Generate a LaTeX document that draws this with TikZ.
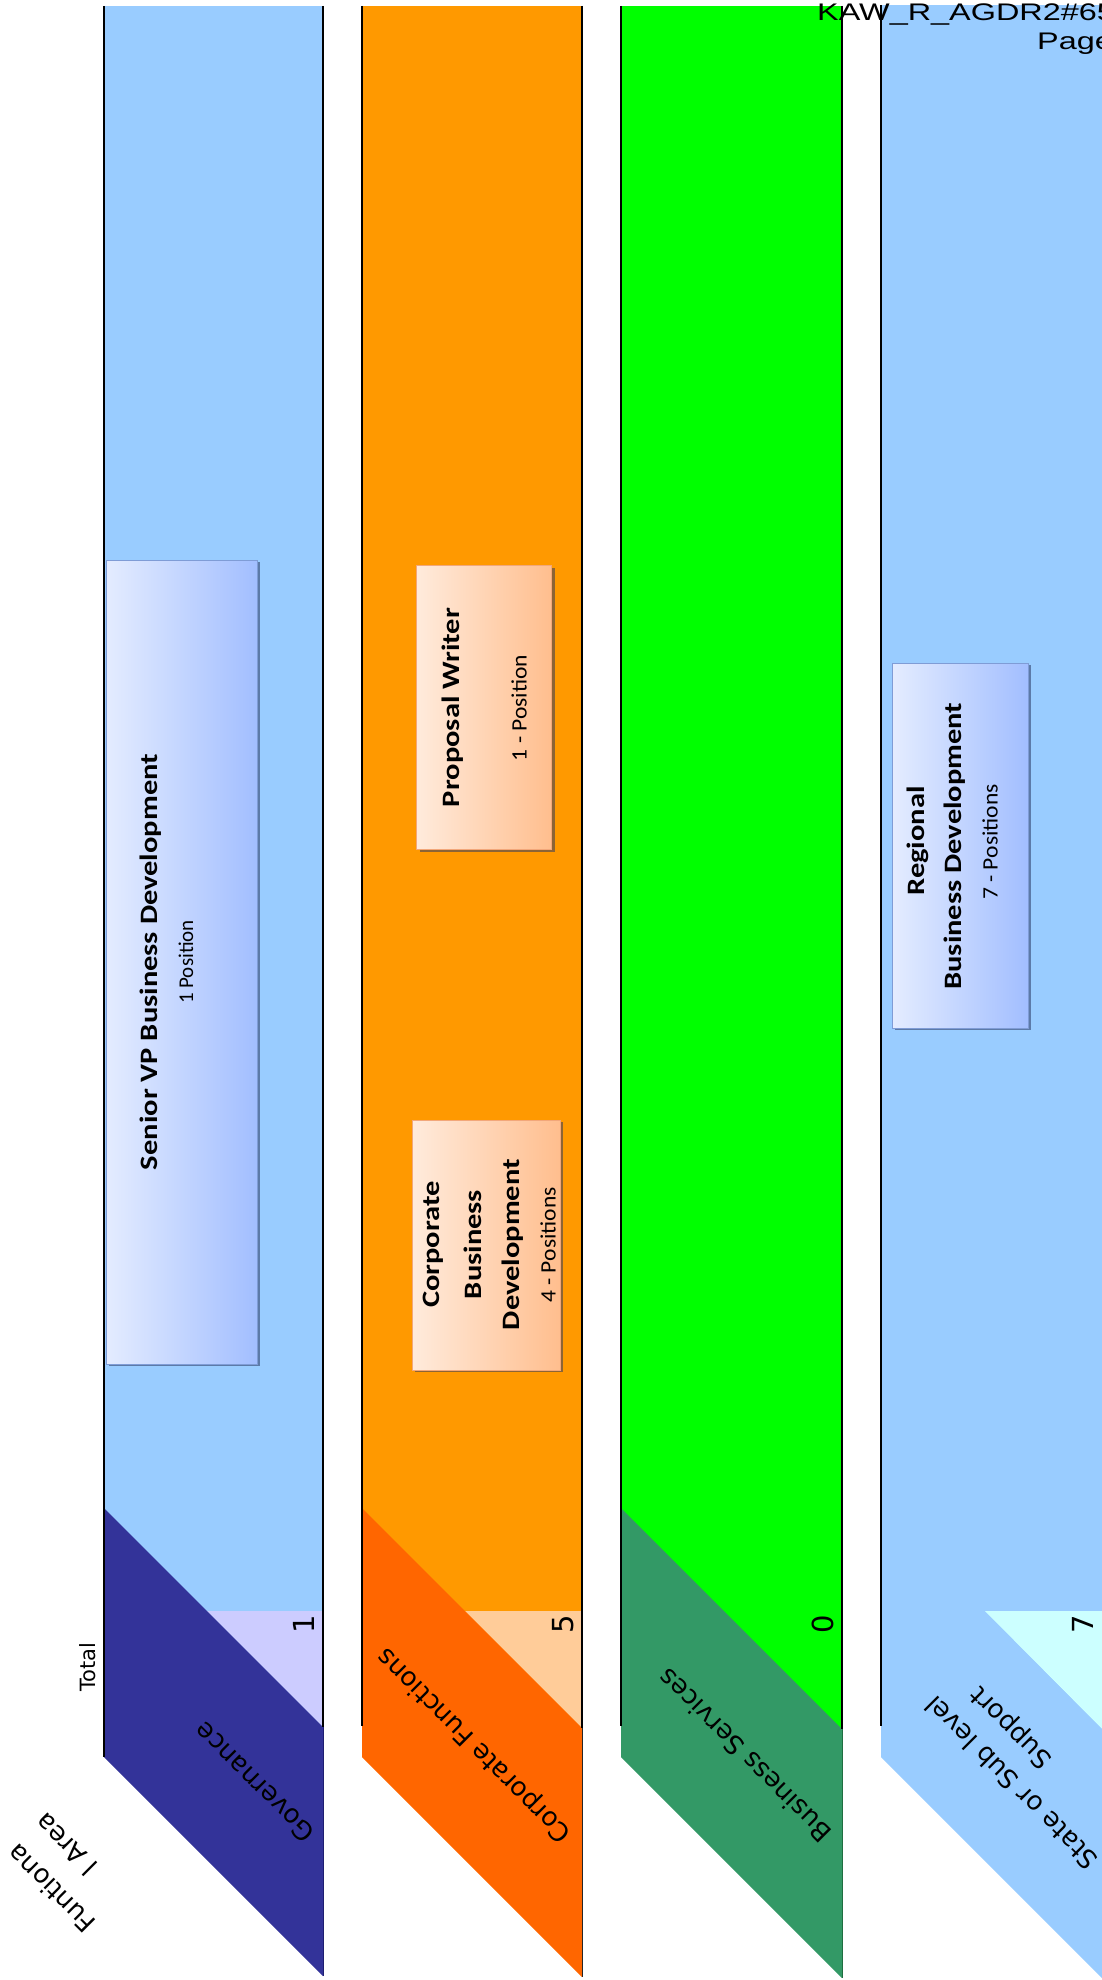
\documentclass[tikz,border=0pt]{standalone}
\usepackage{fontspec}
\usepackage{graphicx}
\setmainfont{Carlito}
\newfontfamily\dejavu{DejaVu Sans}
\newfontfamily\arialf{Liberation Sans}
\usetikzlibrary{shadows}

% band colours
\definecolor{skyband}{HTML}{99CCFF}
\definecolor{govpara}{HTML}{333399}
\definecolor{govpara edge}{HTML}{1E1E70}
\definecolor{govtri}{HTML}{CCCCFF}
\definecolor{corpband}{HTML}{FF9900}
\definecolor{corppara}{HTML}{FF6600}
\definecolor{corptri}{HTML}{FFCC99}
\definecolor{bizband}{HTML}{00FF00}
\definecolor{bizpara}{HTML}{339966}
\definecolor{bizpara edge}{HTML}{1F6E40}
\definecolor{statetri}{HTML}{CCFFFF}
% position box colours
\definecolor{bluepale}{HTML}{E4ECFF}
\definecolor{bluedeep}{HTML}{A2BEFF}
\definecolor{blueedge}{HTML}{7F9CD6}
\definecolor{blueshadow}{HTML}{5C7AA8}
\definecolor{peachpale}{HTML}{FFEBDC}
\definecolor{peachdeep}{HTML}{FFBE8E}
\definecolor{peachedge}{HTML}{F2A77A}
\definecolor{peachshadow}{HTML}{8C6436}

\tikzset{
  edgeline/.style={line width=2pt, black},
  countlabel/.style={rotate=90, inner sep=0pt, font=\dejavu\fontsize{29}{34}\selectfont},
  arealabel/.style={rotate=135, inner sep=0pt, font=\dejavu\fontsize{26}{31}\selectfont},
  bluebox/.style={draw=blueedge, line width=1pt, left color=bluepale, right color=bluedeep,
    inner sep=0pt,
    drop shadow={shadow xshift=3pt, shadow yshift=-2pt, fill=blueshadow, opacity=1}},
  peachbox/.style={draw=peachedge, line width=1pt, left color=peachpale, right color=peachdeep,
    inner sep=0pt,
    drop shadow={shadow xshift=3pt, shadow yshift=-2pt, fill=peachshadow, opacity=1}},
  titletext/.style={rotate=90, inner sep=0pt, font=\bfseries\fontsize{25}{30}\selectfont},
  subtext/.style={rotate=90, inner sep=0pt, font=\fontsize{22}{26}\selectfont},
  headtext/.style={anchor=base west, inner sep=0pt, font=\arialf\fontsize{24}{28}\selectfont},
}

\begin{document}
\begin{tikzpicture}[x=1pt, y=-1pt]
\useasboundingbox (0,0) rectangle (1102,1980);
\clip (0,0) rectangle (1102,1980);

% ---------- Governance band ----------
\fill[skyband] (104,6) rectangle (323,1727);
\fill[govtri] (207,1611) -- (323,1611) -- (323,1727) -- cycle;
\fill[govpara] (104,1508) -- (323,1727) -- (323,1976) -- (104,1757) -- cycle;
\draw[govpara edge, line width=1.5pt] (323.5,1727) -- (323.5,1976);
\draw[edgeline] (104,6) -- (104,1757);
\draw[edgeline] (323,6) -- (323,1727);

% ---------- Corporate Functions band ----------
\fill[corpband] (362,6) rectangle (582,1728);
\fill[corptri] (465,1611) -- (582,1611) -- (582,1728) -- cycle;
\fill[corppara] (362,1508) -- (582,1728) -- (582,1977) -- (362,1757) -- cycle;
\draw[black!85, line width=1.5pt] (582.5,1728) -- (582.5,1977);
\draw[edgeline] (362,6) -- (362,1726);
\draw[edgeline] (582,6) -- (582,1728);

% ---------- Business Services band ----------
\fill[bizband] (621,6) rectangle (842,1729);
\fill[bizpara] (621,1508) -- (842,1729) -- (842,1978) -- (621,1757) -- cycle;
\draw[bizpara edge, line width=1.5pt] (842.5,1729) -- (842.5,1978);
\draw[edgeline] (621,6) -- (621,1726);
\draw[edgeline] (842,6) -- (842,1729);

% ---------- State or Sub level Support band ----------
\fill[skyband] (881,5) rectangle (1103,1730);
\fill[statetri] (985,1611) -- (1103,1611) -- (1103,1730) -- cycle;
\fill[skyband] (881,1508) -- (1103,1730) -- (1103,1979) -- (881,1757) -- cycle;
\draw[edgeline] (881,5) -- (881,1726);

% ---------- totals and area names ----------
\node[rotate=90, inner sep=0pt, font=\dejavu\fontsize{21}{25}\selectfont] (total) at (88,1667) {Total};
\node[arealabel] (areaA) at (50.7,1889) {Funtiona};
\node[arealabel] (areaB) at (65.7,1845) {l Area};

\node[countlabel] (cntgov) at (304,1624) {1};
\node[countlabel] (cntcorp) at (563,1624) {5};
\node[countlabel] (cntbiz) at (823,1624) {0};
\node[countlabel] (cntstate) at (1083,1624) {7};

\node[arealabel, anchor=west] (lgov) at (310,1838) {Governance};
\node[arealabel, anchor=west] (lcorp) at (568,1838) {Corporate Functions};
\node[arealabel, anchor=west] (lbiz) at (827,1838) {Business Services};
\node[arealabel] (lstateA) at (1011,1783) {State or Sub level};
\node[arealabel] (lstateB) at (1012,1727) {Support};

% ---------- position boxes ----------
\node[bluebox, minimum width=151pt, minimum height=804pt] (svp) at (181.5,962) {};
\node[titletext] (svpt) at (150.5,962) {\scalebox{1.22}[1]{Senior VP Business Development}};
\node[subtext, font=\fontsize{21}{25}\selectfont] (svps) at (186,962) {1 Position};

\node[peachbox, minimum width=135pt, minimum height=284pt] (pw) at (484,707.6) {};
\node[titletext] (pwt) at (452.5,707.5) {\scalebox{1.22}[1]{Proposal Writer}};
\node[subtext] (pws) at (519,708) {\scalebox{1.07}[1]{1 - Position}};

\node[peachbox, minimum width=148pt, minimum height=250pt] (cbd) at (486,1245) {};
\node[titletext] (cbdt1) at (433,1244.5) {\scalebox{1.22}[1]{Corporate}};
\node[titletext] (cbdt2) at (473,1244.5) {\scalebox{1.22}[1]{Business}};
\node[titletext] (cbdt3) at (512.5,1244.5) {\scalebox{1.22}[1]{Development}};
\node[subtext] (cbds) at (548,1245) {\scalebox{1.07}[1]{4 - Positions}};

\node[bluebox, minimum width=136pt, minimum height=365pt] (rbd) at (960,845.5) {};
\node[titletext] (rbdt1) at (918,841) {\scalebox{1.22}[1]{Regional}};
\node[titletext] (rbdt2) at (955,846) {\scalebox{1.22}[1]{Business Development}};
\node[subtext] (rbds) at (990,842) {\scalebox{1.07}[1]{7 - Positions}};

% ---------- page header ----------
\node[headtext] (hdr) at (817,20.7) {\scalebox{1.35}[1]{KAW\_R\_AGDR2\#65}};
\node[headtext] (hdrpage) at (1037,50) {\scalebox{1.35}[1]{Page}};
\end{tikzpicture}
\end{document}
